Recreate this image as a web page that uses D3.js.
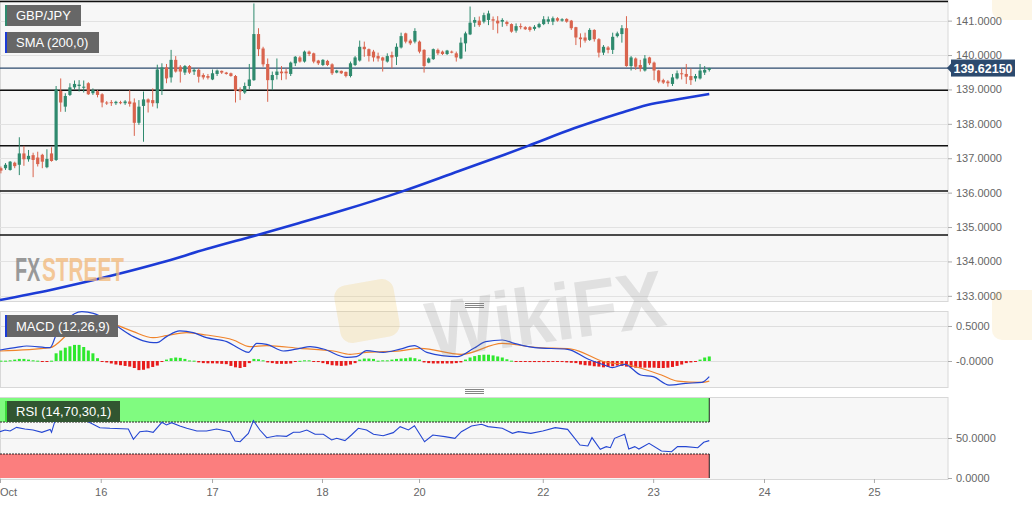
<!DOCTYPE html>
<html>
<head>
<meta charset="utf-8">
<script src="https://cdnjs.cloudflare.com/ajax/libs/d3/7.8.5/d3.min.js"></script>
<style>
  body { margin: 0; background: #fff; }
  svg text { font-family: 'Liberation Sans', Arial, sans-serif; }
  .axis text { fill: #666; font-size: 11px; }
  .axis line { stroke: #aaa; }
  .axis path { display: none; }
</style>
</head>
<body>
<div id="chart"></div>
<script>
// Hourly GBP/JPY candles (bar index = position in array)
const opens = [136.71,136.71,136.66,136.87,136.81,137.14,136.97,137.09,137.02,137.10,136.74,137.14,136.95,138.96,138.50,138.84,139.06,139.10,139.05,139.18,138.89,138.95,138.86,138.62,138.63,138.60,138.63,138.60,138.65,138.62,138.03,138.52,138.71,138.69,138.60,139.00,139.64,139.35,139.86,139.66,139.49,139.68,139.52,139.57,139.42,139.39,139.29,139.45,139.54,139.49,139.47,139.39,138.98,138.91,139.10,139.27,140.61,140.19,139.74,139.27,139.42,139.52,139.52,139.45,139.76,139.93,139.81,140.10,140.05,139.84,139.71,139.83,139.73,139.49,139.54,139.51,139.39,139.71,139.84,140.24,140.17,140.10,139.97,139.93,139.81,140.00,139.95,140.22,140.63,140.42,140.39,140.39,140.15,139.78,139.88,140.15,140.10,140.03,140.10,140.05,139.90,140.34,140.60,140.94,141.00,140.97,141.02,141.04,141.00,140.97,140.96,140.90,140.71,140.84,140.81,140.81,140.76,140.81,140.90,140.97,140.97,141.07,141.00,141.05,141.00,140.81,140.51,140.51,140.44,140.73,140.46,140.07,140.22,140.15,140.55,140.61,140.78,139.68,139.90,139.71,139.55,139.93,139.78,139.55,139.27,139.23,139.16,139.32,139.47,139.45,139.39,139.32,139.32,139.49,139.57];
const highs = [136.76,136.86,136.92,136.90,137.61,137.36,137.24,137.16,137.19,137.13,137.26,137.32,139.10,139.32,138.89,139.18,139.26,139.27,139.26,139.21,139.03,138.98,138.89,138.66,138.69,138.67,138.67,138.69,138.98,138.74,138.69,138.94,138.74,139.03,139.72,139.76,139.74,140.15,139.97,139.71,139.71,139.71,139.61,139.61,139.47,139.45,139.58,139.58,139.55,139.51,139.49,139.42,139.06,139.20,139.74,141.50,140.78,140.24,139.90,139.52,139.90,139.68,139.61,139.81,139.97,139.97,140.13,140.13,140.07,139.86,139.88,139.86,139.76,139.57,139.55,139.52,139.81,139.97,140.42,140.39,140.19,140.15,140.07,139.95,140.05,140.10,140.34,140.65,140.65,140.46,140.78,140.42,140.17,139.93,140.19,140.19,140.13,140.15,140.13,140.10,140.51,140.68,141.41,141.10,141.12,141.23,141.29,141.12,141.13,141.07,141.00,140.92,140.92,140.92,140.84,140.84,140.87,140.94,141.13,141.12,141.12,141.10,141.07,141.07,141.02,140.82,140.63,140.65,140.78,140.75,140.49,140.29,140.26,140.65,140.68,140.87,141.13,139.97,139.93,139.86,140.00,139.95,139.81,139.57,139.31,139.27,139.45,139.55,139.61,139.74,139.61,139.45,139.74,139.68,139.63];
const lows = [136.56,136.66,136.64,136.71,136.51,136.78,136.90,136.45,136.76,136.71,136.71,136.90,136.92,138.35,138.35,138.81,139.00,138.94,138.91,138.84,138.84,138.77,138.48,138.55,138.52,138.55,138.57,138.55,138.50,137.65,137.97,137.48,138.33,138.50,138.45,138.84,139.18,139.20,139.49,139.20,139.42,139.45,139.42,139.20,139.29,139.29,139.27,139.39,139.45,139.43,139.37,138.62,138.69,138.87,139.00,139.25,139.97,139.66,138.64,138.98,139.29,139.27,139.29,139.39,139.68,139.78,139.78,139.97,139.76,139.71,139.68,139.68,139.42,139.47,139.45,139.35,139.35,139.68,139.81,139.95,139.81,139.81,139.81,139.52,139.78,139.61,139.71,140.19,140.34,140.29,140.34,140.05,139.49,139.76,139.86,140.00,140.00,140.00,140.05,139.81,139.88,140.10,140.58,140.82,140.82,140.92,140.87,140.73,140.63,140.82,140.84,140.65,140.65,140.75,140.73,140.68,140.71,140.78,140.87,140.90,140.87,140.97,140.97,140.94,140.73,140.29,140.22,140.36,140.41,140.39,139.93,140.00,140.05,140.03,140.51,140.36,139.66,139.55,139.57,139.52,139.52,139.71,139.27,139.18,139.16,139.08,139.10,139.29,139.29,139.16,139.13,139.23,139.29,139.42,139.52];
const closes = [136.64,136.81,136.90,136.77,137.14,136.97,137.07,136.95,136.83,136.90,136.98,136.92,139.00,138.62,138.81,139.06,139.16,139.14,139.08,138.86,138.98,138.84,138.62,138.60,138.60,138.64,138.60,138.65,138.58,138.03,138.50,138.71,138.62,138.60,139.58,139.64,139.32,139.86,139.52,139.52,139.68,139.49,139.57,139.37,139.35,139.34,139.47,139.55,139.49,139.45,139.39,138.96,138.94,139.10,139.29,140.61,140.17,139.73,139.27,139.42,139.52,139.47,139.47,139.78,139.95,139.81,140.10,140.03,139.81,139.76,139.86,139.71,139.47,139.55,139.47,139.39,139.76,139.93,140.24,140.17,139.97,139.93,139.90,139.84,139.97,139.93,140.24,140.55,140.39,140.34,140.70,140.10,139.68,139.90,140.17,140.05,140.03,140.13,140.07,139.93,140.36,140.63,140.94,141.02,140.87,141.16,141.21,141.00,140.92,141.02,140.90,140.68,140.84,140.81,140.75,140.73,140.82,140.90,141.04,141.04,141.07,141.00,141.04,140.97,140.78,140.51,140.46,140.42,140.73,140.46,140.07,140.24,140.15,140.53,140.63,140.78,139.68,139.93,139.66,139.61,139.90,139.76,139.55,139.23,139.20,139.18,139.35,139.47,139.45,139.37,139.27,139.39,139.55,139.57,139.62];

const lastPrice = 139.6215;
// horizontal levels drawn on the chart
const levels = [141.56, 138.98, 137.36, 136.05, 134.77];
// SMA(200) read as [bar index, value]
const smaPoints = [[-0.2,132.88],[10.8,133.17],[24.8,133.61],[34.7,133.96],[44.7,134.36],[55.2,134.75],[64.7,135.11],[74.7,135.50],[87.1,136.03],[99.6,136.63],[109.6,137.11],[114.6,137.36],[124.6,137.87],[134.5,138.31],[140.5,138.55],[147.5,138.72],[154,138.87]];

// MACD (12,26,9)
const macdPoints = [[-0.2,0.157],[3.4,0.195],[5.6,0.214],[10.7,0.19],[12,0.371],[14.3,0.586],[17.6,0.705],[20.1,0.681],[23.7,0.562],[25.9,0.467],[28.8,0.348],[32.4,0.267],[33.9,0.262],[36,0.348],[38.9,0.429],[41.8,0.405],[44.7,0.333],[49.1,0.276],[52,0.171],[53.8,0.124],[55.6,0.252],[57.8,0.238],[61.4,0.143],[65,0.181],[67.2,0.205],[70.1,0.171],[75.2,0.052],[77.3,0.062],[79.5,0.148],[83.1,0.124],[86.8,0.17],[89.9,0.219],[92.6,0.124],[99.2,0.062],[102.8,0.181],[105.4,0.276],[109,0.3],[111.6,0.252],[116.1,0.19],[123.2,0.167],[127.6,0.029],[131.2,-0.057],[132.9,-0.095],[135.6,-0.048],[139.1,-0.2],[141.8,-0.224],[145.3,-0.343],[148.9,-0.319],[152.4,-0.305],[154,-0.224]];
const signalPoints = [[-0.2,0.143],[10.7,0.19],[14.3,0.371],[18.6,0.633],[21.5,0.619],[25.2,0.514],[28.8,0.419],[33.1,0.333],[36,0.362],[40.4,0.405],[44.7,0.371],[50.5,0.3],[54.1,0.205],[57.8,0.219],[65,0.181],[72.3,0.143],[75.9,0.095],[79.5,0.124],[86.8,0.145],[91.2,0.181],[100.1,0.095],[109,0.252],[116.1,0.195],[124,0.171],[131.2,-0.01],[136.5,-0.057],[143.6,-0.2],[147.1,-0.286],[152.4,-0.305],[154,-0.286]];
const histValues = [0.005,0.005,0.01, 0.02,0.03,0.03,0.02, 0.01,0.005,-0.005,-0.005,0.005,
  0.11,0.15,0.19,0.21,0.23,0.23,0.20,0.15,0.11,0.04, -0.01,
  -0.02,-0.035,-0.05,-0.06,-0.07,-0.08,-0.10,-0.13,-0.125,-0.105,-0.085,-0.065, -0.01,
  0.02,0.04,0.05,0.045,0.03, 0.008,0.005,
  -0.02,-0.03,-0.033,-0.033,-0.035,-0.04,-0.045,-0.07,-0.09,-0.10,-0.085,-0.03,
  0.03,0.025,0.01, -0.02,-0.03,-0.04,-0.04,-0.04,-0.035,-0.01, 0.003,0.01,0.01,-0.005,
  -0.015,-0.03,-0.045,-0.06,-0.065,-0.07,-0.065,-0.05,-0.03, 0.02,0.035,0.035,0.03,
  0.005,0.01,0.01,0.02,0.03,0.035,0.04,0.05,0.04,0.02,
  -0.02,-0.03,-0.035,-0.035,-0.035,-0.035,-0.035,-0.03,-0.02,
  0.02,0.05,0.07,0.085,0.09,0.09,0.08,0.065,0.05,0.025, 0.005,-0.005,
  -0.01,-0.012,-0.015,-0.015,-0.015,-0.015,-0.015,-0.012,-0.012,-0.015,-0.02,-0.025,
  -0.03,-0.05,-0.06,-0.065,-0.075,-0.08,-0.09,-0.085,-0.075,-0.065,-0.07,-0.08,-0.09,-0.095,-0.095,-0.095,-0.095,-0.095,-0.1,-0.1,-0.095,-0.085,-0.07,-0.05,-0.03,-0.02,
  -0.005, 0.02,0.05,0.065];

// RSI (14,70,30,1)
const rsiPoints = [[-0.2,57.9],[0.9,60],[2,58.75],[3.4,63.3],[5.2,61.25],[7,60],[8.9,57.1],[10.7,60.8],[11,57.1],[12,76],[12.8,72.5],[14.3,73.75],[17.9,73.75],[19.4,69.2],[21.5,62.9],[23.7,62.1],[27.7,61.25],[28.8,48.3],[30.2,57.9],[31.7,58.75],[33.1,57.1],[35,69.6],[36,66.25],[37.1,69.2],[38.9,65],[40.4,62.1],[42.6,58.75],[44.7,58.75],[46.9,61.25],[49.8,57.9],[50.9,46.25],[52,45.4],[53.8,55.8],[54.9,71.7],[56.3,60],[57.8,50.4],[60,52.9],[62.1,52.1],[63.6,57.1],[65,57.1],[66.5,60],[68.3,54.6],[70.1,54.6],[71.9,47.5],[73,49.6],[74.8,46.7],[76.2,53.75],[77.7,62.1],[79.5,60],[81,54.6],[83.1,52.9],[85.3,56.7],[86.8,64.2],[88.6,60],[89.9,65.4],[92.1,45.4],[93.9,53.75],[96.5,51.7],[98.7,49.6],[100.1,57.9],[102.3,65],[104.5,67.1],[105.9,64.2],[109,62.1],[111.2,55.8],[112.5,57.9],[115.2,55.8],[117.8,58.75],[120.5,62.9],[123.2,60.8],[125.9,41.25],[127.6,40],[128.5,50.4],[130.3,35.8],[131.6,39.2],[132.5,37.9],[133.4,49.6],[135.6,54.6],[136.5,36.25],[137.8,39.2],[138.7,36.25],[140.9,43.3],[143.6,33.75],[145.8,32.9],[147.1,39.2],[148.9,39.2],[151.5,37.9],[152.8,44.6],[154,46.7]];

// axes
const priceTicks = [133, 134, 135, 136, 137, 138, 139, 140, 141];
const macdTicks = [0, 0.5];
const macdLabels = ['-0.0000', '0.5000'];
const rsiTicks = [0, 50];
const timeTicks = [-0.2, 21.7, 45.9, 69.8, 90.9, 117.8, 141.8, 165.9, 189.8];
const timeLabels = ['Oct', '16', '17', '18', '20', '22', '23', '24', '25'];

const W = 1032, H = 505, plotW = 948;
const panels = {
  main: { top: 0, bottom: 301 },
  macd: { top: 311, bottom: 387 },
  rsi: { top: 397, bottom: 479 }
};
const upColor = '#2f8a6e', downColor = '#d9644e';

const svg = d3.select('#chart').append('svg')
  .attr('width', W)
  .attr('height', H);

const x = d3.scaleLinear().domain([-0.2, 205.9]).range([0, plotW]);
const yPrice = d3.scaleLinear().domain([132.85, 141.6]).range([panels.main.bottom, panels.main.top]);
const yMacd = d3.scaleLinear().domain([-0.371, 0.714]).range([panels.macd.bottom, panels.macd.top]);
const yRsi = d3.scaleLinear().domain([0, 100]).range([478, 398]);

const candles = opens.map((o, i) => ({ i, o, h: highs[i], l: lows[i], c: closes[i] }));
const lastX = x(candles.length - 1);

// panel backgrounds
Object.entries(panels).forEach(([key, p]) => {
  svg.append('rect')
    .attr('x', 0.5).attr('y', p.top + 0.5)
    .attr('width', plotW - 0.5).attr('height', p.bottom - p.top)
    .attr('fill', '#f7f7f7')
    .attr('stroke', '#d8d8d8');
  svg.append('clipPath').attr('id', 'clip-' + key)
    .append('rect').attr('x', 0).attr('y', p.top)
    .attr('width', plotW).attr('height', p.bottom - p.top + 1);
});

// ---- main panel ----
const main = svg.append('g').attr('clip-path', 'url(#clip-main)');

main.selectAll('.grid')
  .data(priceTicks)
  .join('line')
  .attr('x1', 0).attr('x2', plotW)
  .attr('y1', d => Math.round(yPrice(d)) + 0.5)
  .attr('y2', d => Math.round(yPrice(d)) + 0.5)
  .attr('stroke', '#e2e2e2');

main.selectAll('.level')
  .data(levels)
  .join('line')
  .attr('x1', 0).attr('x2', plotW)
  .attr('y1', d => yPrice(d)).attr('y2', d => yPrice(d))
  .attr('stroke', '#111')
  .attr('stroke-width', 1.5);

main.append('line')
  .attr('x1', 0).attr('x2', plotW)
  .attr('y1', yPrice(lastPrice)).attr('y2', yPrice(lastPrice))
  .attr('stroke', '#2c4a6e')
  .attr('stroke-width', 1.2);

const candleG = main.selectAll('.candle')
  .data(candles)
  .join('g')
  .attr('class', 'candle');

candleG.append('line')
  .attr('x1', d => x(d.i)).attr('x2', d => x(d.i))
  .attr('y1', d => yPrice(d.h)).attr('y2', d => yPrice(d.l))
  .attr('stroke', d => d.c >= d.o ? upColor : downColor)
  .attr('stroke-width', 1);

candleG.append('rect')
  .attr('x', d => x(d.i) - 1.6)
  .attr('width', 3.2)
  .attr('y', d => yPrice(Math.max(d.o, d.c)))
  .attr('height', d => Math.max(1, Math.abs(yPrice(d.o) - yPrice(d.c))))
  .attr('fill', d => d.c >= d.o ? upColor : downColor);

main.append('path')
  .datum(smaPoints)
  .attr('fill', 'none')
  .attr('stroke', '#1c3bd6')
  .attr('stroke-width', 2.6)
  .attr('d', d3.line().x(d => x(d[0])).y(d => yPrice(d[1])).curve(d3.curveMonotoneX));

// watermark FXSTREET (narrowed with a horizontal scale)
svg.append('text')
  .attr('transform', 'translate(15,281) scale(0.6,1)')
  .attr('font-size', 33)
  .attr('font-weight', 'bold')
  .attr('fill', '#7a7a7a')
  .attr('opacity', 0.75)
  .text('FX');
svg.append('text')
  .attr('transform', 'translate(42,281) scale(0.63,1)')
  .attr('font-size', 33)
  .attr('font-weight', 'bold')
  .attr('fill', '#f2b878')
  .attr('opacity', 0.75)
  .text('STREET');

// ---- MACD panel ----
const macdG = svg.append('g').attr('clip-path', 'url(#clip-macd)');
macdG.selectAll('.grid')
  .data(macdTicks)
  .join('line')
  .attr('x1', 0).attr('x2', plotW)
  .attr('y1', d => Math.round(yMacd(d)) + 0.5)
  .attr('y2', d => Math.round(yMacd(d)) + 0.5)
  .attr('stroke', '#dedede');

macdG.selectAll('.hist')
  .data(histValues)
  .join('rect')
  .attr('x', (d, i) => x(i) - 1.5)
  .attr('width', 3)
  .attr('y', d => d >= 0 ? yMacd(d) : yMacd(0))
  .attr('height', d => Math.max(1, Math.abs(yMacd(d) - yMacd(0))))
  .attr('fill', d => d >= 0 ? '#2ee82e' : '#e81c1c');

const lineGen = y => d3.line().x(d => x(d[0])).y(d => y(d[1])).curve(d3.curveMonotoneX);
macdG.append('path').datum(signalPoints)
  .attr('fill', 'none').attr('stroke', '#f0842c').attr('stroke-width', 1.2)
  .attr('d', lineGen(yMacd));
macdG.append('path').datum(macdPoints)
  .attr('fill', 'none').attr('stroke', '#2446d2').attr('stroke-width', 1.2)
  .attr('d', lineGen(yMacd));

// ---- RSI panel ----
const rsiG = svg.append('g').attr('clip-path', 'url(#clip-rsi)');
rsiG.append('line')
  .attr('x1', 0).attr('x2', plotW)
  .attr('y1', Math.round(yRsi(50)) + 0.5).attr('y2', Math.round(yRsi(50)) + 0.5)
  .attr('stroke', '#dedede');

rsiG.append('rect')
  .attr('x', 0).attr('y', yRsi(100))
  .attr('width', lastX).attr('height', yRsi(70) - yRsi(100))
  .attr('fill', '#80fb80');
rsiG.append('rect')
  .attr('x', 0).attr('y', yRsi(30))
  .attr('width', lastX).attr('height', yRsi(0) - yRsi(30))
  .attr('fill', '#fb7e7e');
[70, 30].forEach(v => {
  rsiG.append('line')
    .attr('x1', 0).attr('x2', lastX)
    .attr('y1', yRsi(v)).attr('y2', yRsi(v))
    .attr('stroke', '#222').attr('stroke-dasharray', '2,1');
});
[[100, 70], [30, 0]].forEach(([a, b]) => {
  rsiG.append('line')
    .attr('x1', lastX).attr('x2', lastX)
    .attr('y1', yRsi(a)).attr('y2', yRsi(b))
    .attr('stroke', '#222');
});
rsiG.append('path').datum(rsiPoints)
  .attr('fill', 'none').attr('stroke', '#2446d2').attr('stroke-width', 1.1)
  .attr('d', d3.line().x(d => x(d[0])).y(d => yRsi(d[1])));

// ---- axes ----
svg.append('g').attr('class', 'axis')
  .attr('transform', `translate(${plotW},0)`)
  .call(d3.axisRight(yPrice).tickValues(priceTicks).tickFormat(d3.format('.4f')).tickSize(4).tickPadding(4));
svg.append('g').attr('class', 'axis')
  .attr('transform', `translate(${plotW},0)`)
  .call(d3.axisRight(yMacd).tickValues(macdTicks).tickFormat((d, i) => macdLabels[i]).tickSize(4).tickPadding(4));
svg.append('g').attr('class', 'axis')
  .attr('transform', `translate(${plotW},0)`)
  .call(d3.axisRight(yRsi).tickValues(rsiTicks).tickFormat(d3.format('.4f')).tickSize(4).tickPadding(4));

const xAxisG = svg.append('g').attr('class', 'axis')
  .attr('transform', `translate(0,${panels.rsi.bottom})`)
  .call(d3.axisBottom(x).tickValues(timeTicks).tickFormat((d, i) => timeLabels[i]).tickSize(4).tickPadding(5));
xAxisG.selectAll('text').filter((d, i) => i === 0).attr('text-anchor', 'start').attr('dx', -0.5);

// current price tag
const tagY = yPrice(lastPrice);
svg.append('path')
  .attr('d', `M${plotW - 1},${tagY} L${plotW + 3},${tagY - 4.5} L${plotW + 3},${tagY + 4.5} Z`)
  .attr('fill', '#2c4a6e');
svg.append('rect')
  .attr('x', plotW + 3).attr('y', tagY - 8.5)
  .attr('width', 64).attr('height', 17)
  .attr('fill', '#2c4a6e');
svg.append('text')
  .attr('x', plotW + 35).attr('y', tagY + 4.5)
  .attr('text-anchor', 'middle')
  .attr('fill', '#fff')
  .attr('font-size', 12.5)
  .attr('font-weight', 'bold')
  .text(d3.format('.5f')(lastPrice));

// legend tags
function addTag(tx, ty, w, h, label, stripe, fill) {
  const g = svg.append('g');
  g.append('rect').attr('x', tx).attr('y', ty).attr('width', w).attr('height', h).attr('fill', fill);
  g.append('rect').attr('x', tx).attr('y', ty).attr('width', 2).attr('height', h).attr('fill', stripe);
  g.append('text').attr('x', tx + 11).attr('y', ty + h / 2 + 4.5)
    .attr('fill', '#fff').attr('font-size', 13).text(label);
}
addTag(5, 5, 76, 21, 'GBP/JPY', '#2f8a6e', '#676767');
addTag(5, 32, 94, 21, 'SMA (200,0)', '#1c3bd6', '#676767');
addTag(5, 315, 113, 22, 'MACD (12,26,9)', '#1c3bd6', '#676767');
addTag(5, 401, 115, 21, 'RSI (14,70,30,1)', '#3cdc3c', '#315631');

// panel resize handles
[305.5, 391.5].forEach(hy => {
  [-2, 0, 2].forEach(o => {
    svg.append('line')
      .attr('x1', 465).attr('x2', 484)
      .attr('y1', hy + o).attr('y2', hy + o)
      .attr('stroke', '#777').attr('stroke-width', 0.9);
  });
});

// WikiFX watermark
const wm = svg.append('g').attr('opacity', 0.2);
wm.append('rect')
  .attr('x', 337).attr('y', 282).attr('width', 60).attr('height', 58).attr('rx', 12)
  .attr('fill', '#f0c050')
  .attr('transform', 'rotate(-10,367,311)');
wm.append('text')
  .attr('x', 425).attr('y', 342)
  .attr('font-size', 80)
  .attr('font-weight', 'bold')
  .attr('fill', '#888')
  .attr('textLength', 240)
  .attr('lengthAdjust', 'spacingAndGlyphs')
  .attr('transform', 'rotate(-8,545,310)')
  .text('WikiFX');
wm.append('rect')
  .attr('x', 992).attr('y', 290).attr('width', 50).attr('height', 50).attr('rx', 10)
  .attr('fill', '#f0c050')
  .attr('opacity', 0.7);
wm.append('rect')
  .attr('x', 992).attr('y', -30).attr('width', 50).attr('height', 50).attr('rx', 10)
  .attr('fill', '#f0c050')
  .attr('opacity', 0.7);
</script>
</body>
</html>
